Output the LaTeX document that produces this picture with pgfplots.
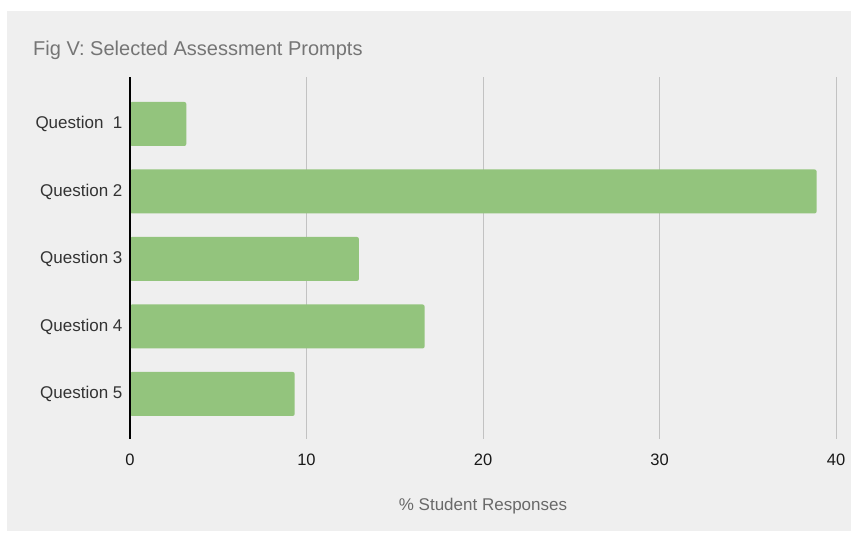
\documentclass[border=0pt]{standalone}
\usepackage{pgfplots}
\pgfplotsset{compat=1.18}
\usepackage{fontspec}
\setmainfont{Liberation Sans}
\definecolor{panel}{HTML}{EFEFEF}
\definecolor{barg}{HTML}{93C47D}
\definecolor{gridg}{HTML}{C2C2C2}
\definecolor{titleg}{HTML}{757575}
\definecolor{labg}{HTML}{333333}
\pgfplotstableread{
y val
5 3.19
4 38.9
3 12.97
2 16.69
1 9.33
}\datatab
\begin{document}
\begin{tikzpicture}[x=1pt,y=1pt]
\fill[white] (0,0) rectangle (857,533);
\fill[panel] (7,2) rectangle (851,522);
\node[anchor=base west, text=titleg, font=\fontsize{20}{22}\selectfont, inner sep=0] at (33,477) {Fig V: Selected Assessment Prompts};
\begin{axis}[
  at={(130pt,94pt)}, anchor=south west,
  scale only axis, width=706pt, height=362pt,
  xmin=0, xmax=40, ymin=0.333, ymax=5.696,
  xbar, bar width=44pt,
  axis line style={draw=none},
  major tick length=0pt,
  xtick={0,10,20,30,40},
  ytick={1,2,3,4,5},
  yticklabels={Question 5,Question 4,Question 3,Question 2,Question\ \ 1},
  xmajorgrids, major grid style={gridg, line width=1pt},
  /pgf/number format/assume math mode=true,
  xticklabel style={anchor=center, yshift=-21pt, text=black!90, font=\fontsize{16.5}{18}\selectfont},
  yticklabel style={anchor=east, xshift=-4pt, text=labg, font=\fontsize{17}{19}\selectfont},
  clip=false,
]
\addplot[fill=barg, draw=none, rounded corners=2pt] table[x=val, y=y] {\datatab};
\draw[black, line width=1.2pt] (axis cs:0,0.333) -- (axis cs:0,5.696);
\end{axis}
\node[text=titleg!90!black, font=\fontsize{17}{19}\selectfont] at (483,27) {\% Student Responses};
\end{tikzpicture}
\end{document}
